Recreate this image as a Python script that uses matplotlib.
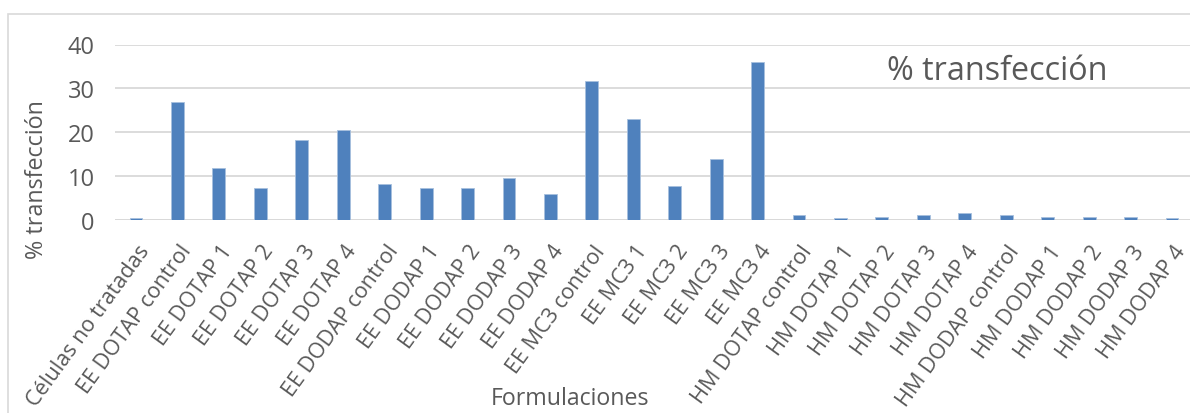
import matplotlib
matplotlib.use("Agg")
import matplotlib.pyplot as plt
from matplotlib.patches import Rectangle
from matplotlib.transforms import ScaledTranslation

plt.rcParams['font.family'] = ['Open Sans', 'DejaVu Sans']

formulaciones = [
    "Células no tratadas", "EE DOTAP control", "EE DOTAP 1", "EE DOTAP 2",
    "EE DOTAP 3", "EE DOTAP 4", "EE DODAP control", "EE DODAP 1",
    "EE DODAP 2", "EE DODAP 3", "EE DODAP 4", "EE MC3 control",
    "EE MC3 1", "EE MC3 2", "EE MC3 3", "EE MC3 4",
    "HM DOTAP control", "HM DOTAP 1", "HM DOTAP 2", "HM DOTAP 3",
    "HM DOTAP 4", "HM DODAP control", "HM DODAP 1", "HM DODAP 2",
    "HM DODAP 3", "HM DODAP 4",
]
transfeccion = [
    0.4, 27.0, 11.8, 7.4, 18.2, 20.4, 8.2, 7.4, 7.4, 9.6, 6.0, 31.6,
    23.0, 7.8, 14.0, 36.0, 1.1, 0.4, 0.75, 1.1, 1.5, 1.1, 0.75, 0.75,
    0.75, 0.4,
]
y_ticks = [0, 10, 20, 30, 40]

text_color = "#595959"
grid_color = "#d9d9d9"
bar_color = "#4f81bd"

W, H = 1190, 414
fig = plt.figure(figsize=(W / 100, H / 100), dpi=100)

# chart area frame (right and bottom run off the image)
fig.patches.append(Rectangle((8 / W, -0.01), 1.1, 1 - 15 / H + 0.01,
                             transform=fig.transFigure, fill=False,
                             edgecolor=grid_color, linewidth=1.2))

left, right = 115.3, 1192.7
top, bottom = 45.5, 221.0
ax = fig.add_axes([left / W, 1 - bottom / H, (right - left) / W, (bottom - top) / H])

x = range(len(formulaciones))
ax.bar(x, transfeccion, width=0.31, color=bar_color, edgecolor="#a7c0de",
       linewidth=0.6, zorder=3)

ax.set_xlim(-0.5, len(formulaciones) - 0.5)
ax.set_ylim(0, 40)
ax.set_yticks(y_ticks)
ax.yaxis.grid(True, color=grid_color, linewidth=1.3, zorder=0)
for s in ax.spines.values():
    s.set_visible(False)
ax.axhline(0, color=grid_color, linewidth=1.3, zorder=2)
ax.tick_params(axis="both", length=0, colors=text_color)
ax.tick_params(axis="y", pad=15, labelsize=17)

# slanted category labels, ending at each bar
ax.set_xticks(list(x))
ax.set_xticklabels(formulaciones, rotation=54, ha="right", va="top",
                   rotation_mode="anchor", fontsize=15.6, color=text_color)
ax.tick_params(axis="x", pad=15)
shift = ScaledTranslation(1 / 100, 0, fig.dpi_scale_trans)
for lbl in ax.get_xticklabels():
    lbl.set_transform(lbl.get_transform() + shift)

fig.text(37 / W, 1 - 180 / H, "% transfección", fontsize=16.8, rotation=90,
         color=text_color, ha="center", va="center")
fig.text(570 / W, 1 - 399 / H, "Formulaciones", fontsize=16.7,
         color=text_color, ha="center", va="center")
fig.text(997 / W, 1 - 71 / H, "% transfección", fontsize=23.3,
         color=text_color, ha="center", va="center")

fig.savefig("out.png", dpi=100)
